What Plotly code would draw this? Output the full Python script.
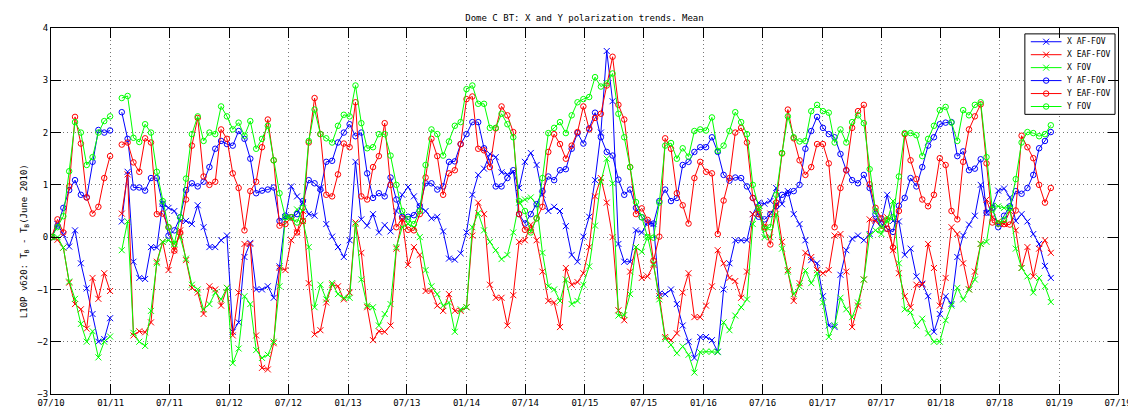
import plotly.graph_objects as go
import pandas as pd

# Sample dates: one value every 18 days, 2010-07 .. 2018-12 (one missing sample at index 11)
dates = pd.date_range("2010-07-03", periods=172, freq="18D")

N = None
x_af_fov = [0.0, 0.25, 0.05, -0.18, 0.13, -0.5, -0.98, -1.47, -2.0, -1.95, -1.55,
            N,
            0.3, 1.25, -0.47, -0.78, -0.8,
            -0.19, -0.2, 0.64, 0.56, 0.5, 0.31, 0.31, 0.25, 0.61, 0.19, -0.19, -0.19, -0.06, 0.03, -1.81, -1.63,
            -0.38, -0.11, -1.0, -1.0, -0.94, -1.16, -0.56, 0.38, 0.97, 0.78, 0.66, 0.44, 0.41, 0.94, 0.25, 0.01, -0.19,
            -0.38, -0.06, 1.44, 0.34, 0.22, 0.44, 0.09, 0.23, 0.11, 0.5, 0.81, 0.96, 0.78, 0.58, 0.5, 0.36,
            0.39, 0.11, -0.41, -0.43, -0.31, 0.09, 0.81, 1.19, 1.31, 1.59, 1.53, 1.24, 1.2, 1.25, 0.94, 1.44,
            1.61, 1.38, 0.81, 0.5, 0.58, 0.5, 0.21, -0.34, -0.47, 0.01, 0.39, 1.09, 2.0, 3.56, 2.6, -0.13,
            -0.47, -0.47, 0.13, 0.09, 0.28, 0.25, -1.08, -1.09, -1.0, -1.28, -1.69, -2.0, -2.31, -1.91, -1.91, -1.97,
            -2.19, -1.0, -0.5, -0.06, -0.06, -0.06, 0.44, 0.66, 0.64, 0.69, 0.94, 0.63, 0.88, 0.44, 0.25, -0.06,
            -0.44, -0.5, -1.13, -1.69, -1.72, -0.72, -0.25, -0.03, 0.03, -0.06, 0.06, 0.34, 0.31, 0.81, 0.31, 0.3,
            -0.34, -0.22, -0.75, -0.89, -1.13, -1.81, -1.47, -1.13, -1.28, -0.38, 0.03, 0.24, 0.41, 1.0, 0.46, 0.59,
            0.89, 0.93, 0.76, 0.31, 0.44, 0.3, 0.06, -0.13, -0.55, -0.78]

x_eaf_fov = [0.0, -0.05, -0.2, -0.87, -1.28, -1.38, -1.75, -0.78, -1.18, -0.69, -1.03,
             N,
             0.45, 1.2, -1.88, -1.8, -1.82,
             -1.63, -0.47, -0.09, -0.63, -0.25, 0.13, -0.44, -0.97, -1.06, -1.47, -0.94, -1.0, -1.31, -0.97, -1.88, -1.06,
             -0.13, -0.13, -1.88, -2.5, -2.53, -2.03, -0.59, -0.63, -0.06, 0.09, 0.5, -0.88, -1.86, -1.78, -1.25, -0.91, -0.94,
             -1.19, -1.06, 0.28, -0.3, -1.34, -1.97, -1.8, -1.81, -1.69, -0.22, 0.34, -0.53, -0.19, -0.34, -1.03, -1.03,
             -1.31, -1.41, -1.09, -1.41, -1.41, -1.34, 0.03, 0.66, 0.44, -0.91, -1.16, -1.16, -1.69, -1.11, -0.09, -0.06,
             0.24, -0.06, -0.66, -1.22, -1.25, -1.72, -0.59, -0.91, -0.86, -0.69, -0.19, 0.78, 1.13, 0.66, 0.0, -1.4,
             -1.59, -0.66, -0.19, -0.78, -0.75, -0.53, -1.13, -1.91, -1.97, -1.84, -1.06, -0.69, -1.53, -1.53, -1.31, -0.94,
             -0.25, -0.5, -0.78, -0.84, -1.16, -0.66, 0.44, 0.56, 0.19, 0.45, 0.63, -0.09, -0.63, -1.22, -0.88, -0.3,
             -0.38, -0.63, -0.69, -0.63, 0.03, 0.06, -0.66, -1.72, -1.31, -0.81, 0.34, 0.31, 0.19, 0.38, -0.25, -0.69,
             -1.13, -1.34, -0.91, -0.91, -0.13, -0.59, -1.31, -0.78, 0.19, 0.06, -0.5, -1.0, -0.66, -0.13, 0.72, 0.38,
             0.3, 0.25, 0.5, 0.13, -0.59, -0.19, -0.75, -0.22, -0.06, -0.3]

x_fov = [0.0, 0.0, -0.2, -0.85, -1.18, -1.66, -2.0, -1.8, -2.3, -2.0, -1.9,
         N,
         -0.25, 0.3, -1.83, -2.0, -2.08,
         -1.41, -0.5, -0.09, -0.06, -0.13, 0.0, -0.41, -0.91, -1.0, -1.38, -1.28, -1.06, -1.19, -0.97, -2.41, -2.13,
         -1.13, -1.28, -2.16, -2.31, -2.25, -2.0, -0.94, 0.38, 0.36, 0.53, 0.31, -0.19, -1.34, -0.91, -1.19, -0.88, -1.09,
         -1.16, -1.16, 0.25, -0.81, -1.31, -1.34, -1.69, -1.47, -1.28, -0.19, 0.19, 0.25, 0.19, 0.0, -0.63, -0.94,
         -1.09, -1.31, -1.25, -1.81, -1.38, -1.34, 0.19, 0.46, 0.13, -0.09, -0.25, -0.42, -0.34, 0.09, 0.66, 0.72,
         0.76, 0.63, -0.3, -0.94, -1.0, -1.22, -0.81, -1.28, -1.22, -0.91, -0.56, 0.22, 1.06, 1.5, 1.03, -1.5,
         -1.49, -1.09, -0.19, -0.28, 0.01, -0.5, -1.19, -1.94, -2.06, -2.22, -2.09, -2.25, -2.59, -2.2, -2.19, -2.19,
         -2.2, -1.63, -1.78, -1.5, -1.34, -1.19, 0.25, 0.53, 0.0, 0.0, 0.44, -0.22, -0.66, -1.09, -0.94, -0.64,
         -0.88, -0.69, -1.25, -1.91, -1.69, -1.16, -1.38, -1.53, -1.25, -0.81, 0.03, 0.13, 0.06, 0.31, 0.69, -0.5,
         -1.38, -1.44, -1.69, -1.56, -1.84, -2.0, -2.0, -1.59, -1.31, -0.97, -1.19, -1.0, -0.81, -0.13, -0.09, 0.6,
         0.59, 0.56, 0.56, -0.22, -0.59, -0.75, -1.06, -0.78, -0.94, -1.24]

y_af_fov = [0.0, 0.22, 0.56, 0.9, 1.09, 0.81, 0.76, 1.44, 2.05, 2.0, 2.04,
            N,
            2.39, 1.88, 0.95, 0.95, 0.89,
            1.13, 1.13, 0.63, 0.03, 0.13, 0.38, 0.9, 1.03, 0.97, 1.06, 1.34, 1.69, 1.84, 1.78, 1.75, 2.03,
            1.88, 1.5, 0.84, 0.89, 0.91, 0.95, 0.31, 0.41, 0.38, 0.44, 0.69, 1.09, 1.03, 0.91, 1.44, 1.46, 1.81,
            2.0, 2.16, 1.93, 2.0, 1.22, 0.75, 0.84, 0.78, 1.14, 0.72, 0.39, 0.39, 0.42, 0.59, 1.03, 1.03,
            0.91, 0.97, 1.44, 1.45, 1.78, 1.97, 2.2, 2.2, 1.7, 1.44, 0.97, 0.97, 1.13, 1.28, 0.44, 0.26,
            0.44, 0.63, 0.88, 1.16, 1.09, 1.28, 1.3, 1.69, 1.99, 1.79, 2.08, 2.38, 1.91, 1.63, 1.56, 1.1,
            0.81, 0.91, 0.56, 0.38, 0.28, 0.26, 0.69, 0.91, 0.69, 0.75, 1.38, 1.44, 1.63, 1.72, 1.72, 1.91,
            1.63, 1.19, 1.08, 1.14, 1.13, 0.97, 0.75, 0.39, 0.34, 0.44, 0.59, 0.81, 0.84, 0.88, 1.0, 1.69,
            2.03, 2.3, 2.09, 1.97, 1.91, 1.59, 1.28, 1.09, 1.03, 1.19, 0.94, 0.44, 0.26, 0.16, 0.1, 0.6,
            0.75, 1.13, 0.97, 1.34, 1.75, 1.91, 2.16, 2.19, 2.2, 1.55, 1.64, 1.28, 1.31, 1.49, 0.47, 0.56,
            0.19, 0.41, 0.59, 0.88, 0.83, 0.94, 1.19, 1.7, 1.84, 2.01]

y_eaf_fov = [0.0, 0.34, 0.09, 0.97, 2.3, 1.79, 0.76, 0.45, 0.58, 1.13, 1.55,
             N,
             1.77, 1.81, 1.43, 1.25, 1.89,
             1.81, 0.44, 0.45, 0.19, -0.26, 0.09, 0.72, 1.75, 2.28, 1.16, 1.0, 1.06, 2.06, 1.88, 1.22, 0.94,
             0.13, 0.88, 1.06, 1.72, 2.25, 1.47, 0.22, 0.25, 0.38, 0.09, 0.31, 1.81, 2.66, 1.97, 0.81, 0.78, 1.2,
             1.79, 1.72, 2.58, 0.78, 0.72, 1.34, 1.55, 2.18, 1.0, 0.19, 0.36, 0.14, 0.13, 0.44, 1.14, 1.88,
             1.55, 0.81, 1.22, 1.28, 1.78, 2.64, 2.69, 1.69, 1.66, 1.34, 2.08, 2.5, 2.33, 2.01, 0.44, 0.14,
             0.13, 0.36, 0.58, 1.63, 1.97, 1.78, 1.5, 1.75, 2.01, 2.5, 2.06, 2.28, 2.36, 2.9, 3.45, 2.53,
             2.25, 1.34, 0.44, 0.55, 0.33, -0.45, 0.01, 1.89, 1.69, 0.84, 0.61, 0.26, 1.13, 1.44, 1.25, 1.22,
             0.06, 0.7, 1.13, 2.0, 2.09, 1.81, 0.75, 0.44, 0.19, -0.14, 0.66, 1.6, 2.44, 1.89, 1.47, 1.19,
             1.34, 1.78, 1.78, 1.41, 0.19, 0.94, 1.28, 2.09, 2.41, 2.53, 1.01, 0.56, 0.36, 0.16, -0.2, 0.5,
             1.97, 1.47, 1.11, 0.72, 0.59, 0.81, 1.51, 1.38, 0.5, 0.34, 1.44, 2.06, 2.31, 2.54, 1.41, 0.28,
             0.26, 0.25, 0.24, 0.51, 1.94, 1.72, 1.51, 1.0, 0.66, 0.94]

y_fov = [0.0, 0.19, 0.4, 1.26, 2.2, 2.0, 1.38, 1.53, 2.0, 2.22, 2.31,
         N,
         2.66, 2.7, 1.9, 1.82, 2.16,
         2.0, 1.25, 0.69, 0.19, -0.13, 0.38, 1.12, 1.97, 2.31, 1.84, 2.0, 1.97, 2.5, 2.31, 2.06, 2.19,
         1.94, 2.22, 1.69, 1.88, 2.13, 1.47, 0.84, 0.38, 0.38, 0.28, 0.56, 1.84, 2.44, 1.97, 1.89, 1.81, 2.13,
         2.34, 2.31, 2.9, 2.18, 1.7, 1.72, 1.97, 1.97, 1.56, 1.0, 0.5, 0.34, 0.25, 0.5, 1.38, 2.06,
         1.97, 1.56, 1.83, 2.13, 2.2, 2.83, 2.9, 2.55, 2.55, 2.09, 2.09, 2.36, 2.16, 1.91, 0.69, 0.5,
         0.09, 0.36, 1.13, 1.99, 2.09, 2.2, 1.99, 2.33, 2.58, 2.64, 2.68, 3.06, 2.88, 2.94, 3.13, 2.36,
         1.91, 1.34, 0.67, 0.38, 0.0, -0.01, 0.66, 1.75, 1.8, 1.5, 1.7, 1.54, 2.03, 2.06, 2.04, 2.29,
         1.65, 1.75, 2.03, 2.39, 2.2, 1.97, 1.0, 0.56, 0.16, 0.19, 0.81, 1.61, 2.31, 1.91, 1.83, 1.84,
         2.41, 2.53, 2.41, 2.38, 1.81, 2.06, 1.81, 2.2, 2.33, 2.18, 1.3, 0.5, 0.16, 0.34, 0.38, 1.16,
         1.99, 1.99, 1.95, 1.55, 1.88, 2.13, 2.43, 2.49, 2.19, 1.84, 2.43, 2.33, 2.53, 2.58, 1.53, 0.53,
         0.26, 0.33, 0.56, 1.11, 1.81, 2.01, 1.99, 1.93, 1.97, 2.14]

series_names = ["X AF-FOV", "X EAF-FOV", "X FOV", "Y AF-FOV", "Y EAF-FOV", "Y FOV"]
series_values = [x_af_fov, x_eaf_fov, x_fov, y_af_fov, y_eaf_fov, y_fov]
series_colors = ["#0000ff", "#ff0000", "#00ff00", "#0000ff", "#ff0000", "#00ff00"]
series_symbols = ["x-thin-open", "x-thin-open", "x-thin-open",
                  "circle-open", "circle-open", "circle-open"]

MONO = "DejaVu Sans Mono"


def marker_style(sym, col):
    return dict(symbol=sym, size=6 if sym.startswith("x") else 5.5, color=col,
                line=dict(color=col, width=1))


fig = go.Figure()
for name, vals, col, sym in zip(series_names, series_values, series_colors, series_symbols):
    fig.add_trace(go.Scatter(
        x=dates[:len(vals)], y=vals, name=name, mode="lines+markers",
        connectgaps=False, showlegend=False,
        line=dict(color=col, width=1), marker=marker_style(sym, col),
    ))

# ---- compact MATLAB-style legend box, drawn on a pixel-scaled overlay axis ----
LEG_LEFT, LEG_RIGHT, LEG_TOP, LEG_BOTTOM = 1026, 1117, 26, 108
ROW_H = 13.2
SAMPLE_X0, SAMPLE_X1, TEXT_X = 1032, 1063, 1066

fig.add_trace(go.Scatter(
    x=[LEG_LEFT, LEG_RIGHT, LEG_RIGHT, LEG_LEFT, LEG_LEFT],
    y=[LEG_TOP, LEG_TOP, LEG_BOTTOM, LEG_BOTTOM, LEG_TOP],
    xaxis="x2", yaxis="y2", mode="lines", fill="toself", fillcolor="white",
    line=dict(color="black", width=1), showlegend=False, hoverinfo="skip"))

legend_annotations = []
for k, (name, col, sym) in enumerate(zip(series_names, series_colors, series_symbols)):
    yc = LEG_TOP + 8 + k * ROW_H
    fig.add_trace(go.Scatter(
        x=[SAMPLE_X0, SAMPLE_X1], y=[yc, yc], xaxis="x2", yaxis="y2", mode="lines",
        line=dict(color=col, width=1), showlegend=False, hoverinfo="skip"))
    fig.add_trace(go.Scatter(
        x=[(SAMPLE_X0 + SAMPLE_X1) / 2], y=[yc], xaxis="x2", yaxis="y2", mode="markers",
        marker=marker_style(sym, col), showlegend=False, hoverinfo="skip"))
    legend_annotations.append(dict(
        text=name, xref="x2", yref="y2", x=TEXT_X, y=yc,
        xanchor="left", yanchor="middle", showarrow=False,
        font=dict(family=MONO, size=8, color="black")))

axis_common = dict(
    showline=True, linecolor="black", linewidth=1, mirror="ticks",
    ticks="inside", ticklen=10, tickwidth=1, tickcolor="black",
    showgrid=True, gridcolor="#777777", griddash="1px,3px", gridwidth=1,
    zeroline=False,
    tickfont=dict(family=MONO, size=9, color="black"),
)

fig.update_layout(
    width=1136, height=412,
    margin=dict(l=43, r=16, t=20, b=19),
    paper_bgcolor="white", plot_bgcolor="white",
    showlegend=False,
    title=dict(text="Dome C BT: X and Y polarization trends. Mean",
               x=0.5, xref="paper", xanchor="center",
               y=1 - 10 / 412, yref="container", yanchor="middle",
               font=dict(family=MONO, size=9, color="black")),
    xaxis=dict(type="date", range=["2010-07-01", "2019-07-01"],
               tick0="2010-07-01", dtick="M6", tickformat="%m/%y", **axis_common),
    yaxis=dict(range=[-3, 4], dtick=1, tick0=0, **axis_common),
    xaxis2=dict(overlaying="x", range=[43, 1120], visible=False, fixedrange=True),
    yaxis2=dict(overlaying="y", range=[393, 20], visible=False, fixedrange=True),
    annotations=[dict(
        text="L10P v620: T<sub>B</sub> - T<sub>B</sub>(June 2010)",
        textangle=-90, xref="paper", yref="paper",
        x=(17 - 43) / 1077, y=(393 - 237) / 373,
        xanchor="center", yanchor="middle", showarrow=False,
        font=dict(family=MONO, size=9, color="black"))] + legend_annotations,
)

fig.write_html("out.html")
